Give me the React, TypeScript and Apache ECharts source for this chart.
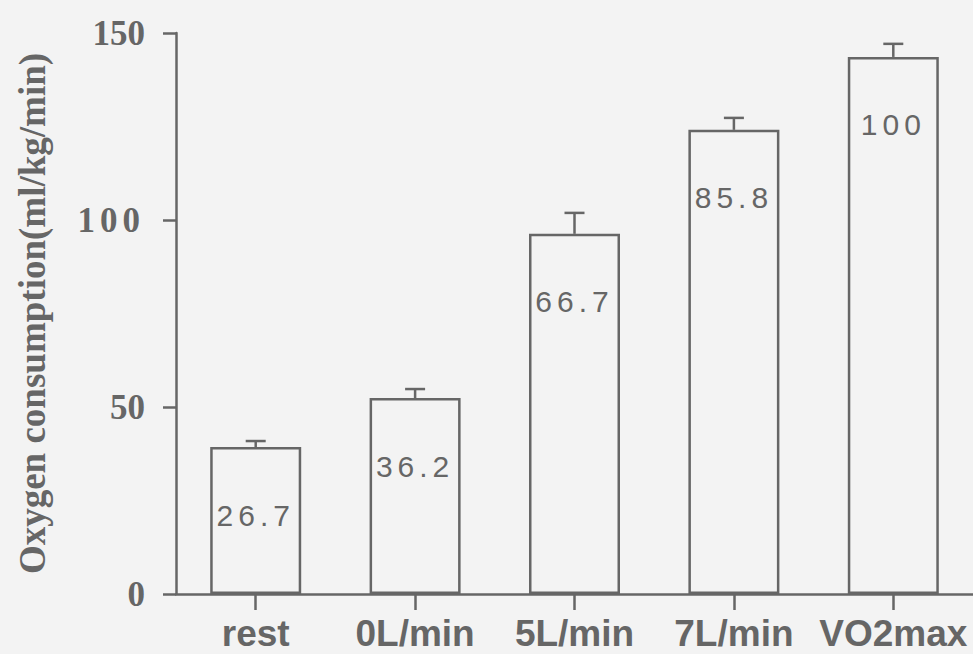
import React, { useEffect, useRef } from "react";
import * as echarts from "echarts";

// Oxygen consumption by condition (ml/kg/min), with upper SD whiskers
const categories = ["rest", "0L/min", "5L/min", "7L/min", "VO2max"];
const meanValues = [39.3, 52.4, 96.3, 124.1, 143.6];
const upperErrors = [40.9, 54.8, 101.9, 127.3, 147.1];
// Relative intensity printed inside each bar (% of VO2max)
const percentLabels = ["26.7", "36.2", "66.7", "85.8", "100"];
const yTicks = [0, 50, 100, 150];

const INK = "#666666";
const PAPER = "#f3f3f3";

export default function App() {
  const ref = useRef<HTMLDivElement>(null);

  useEffect(() => {
    if (!ref.current) return;
    const chart = echarts.init(ref.current, undefined, { renderer: "svg" });

    const spaceLabels = () => {
      const dom = chart.getDom();
      dom.querySelectorAll("text").forEach((t) => {
        if (percentLabels.includes((t.textContent || "").trim())) {
          t.setAttribute("letter-spacing", "5");
        }
      });
    };

    chart.setOption({
      animation: false,
      backgroundColor: PAPER,
      grid: { left: 176, top: 33, width: 797, height: 561, containLabel: false },
      xAxis: {
        type: "category",
        data: categories,
        boundaryGap: true,
        axisLine: { show: true, lineStyle: { color: INK, width: 2.5 } },
        axisTick: { show: true, alignWithLabel: true, length: 16, lineStyle: { color: INK, width: 2.5 } },
        axisLabel: {
          color: INK,
          fontFamily: "Liberation Sans, Arial, sans-serif",
          fontWeight: "bold",
          fontSize: 37,
          lineHeight: 37,
          margin: 21,
          interval: 0,
        },
        splitLine: { show: false },
      },
      yAxis: {
        type: "value",
        min: yTicks[0],
        max: yTicks[yTicks.length - 1],
        interval: yTicks[1] - yTicks[0],
        name: "Oxygen consumption(ml/kg/min)",
        nameLocation: "middle",
        nameRotate: 90,
        nameGap: 125,
        nameTextStyle: {
          color: INK,
          fontFamily: "Liberation Serif, Times New Roman, serif",
          fontWeight: "bold",
          fontSize: 37,
        },
        axisLine: { show: true, lineStyle: { color: INK, width: 2.5 } },
        axisTick: { show: true, length: 13, lineStyle: { color: INK, width: 2.5 } },
        axisLabel: {
          color: INK,
          fontFamily: "Liberation Serif, Times New Roman, serif",
          fontWeight: "bold",
          fontSize: 35,
          margin: 31,
        },
        splitLine: { show: false },
      },
      series: [
        {
          type: "bar",
          data: meanValues,
          barWidth: 91,
          silent: true,
          itemStyle: { color: PAPER, borderColor: INK, borderWidth: 2.5 },
          label: {
            show: true,
            position: ["50%", 68],
            align: "center",
            verticalAlign: "middle",
            color: INK,
            fontFamily: "Liberation Sans, Arial, sans-serif",
            fontSize: 30,
            formatter: (p: any) => percentLabels[p.dataIndex],
          },
        },
        {
          type: "custom",
          silent: true,
          data: meanValues.map((v, i) => [i, v, upperErrors[i]]),
          renderItem: (_params: any, api: any) => {
            const i = api.value(0);
            const base = api.coord([i, api.value(1)]);
            const top = api.coord([i, api.value(2)]);
            const half = 10;
            const style = { stroke: INK, lineWidth: 2.5, fill: "none" };
            return {
              type: "group",
              children: [
                { type: "line", shape: { x1: base[0], y1: base[1], x2: top[0], y2: top[1] }, style },
                { type: "line", shape: { x1: top[0] - half, y1: top[1], x2: top[0] + half, y2: top[1] }, style },
              ],
            };
          },
          z: 3,
        },
      ],
    });

    spaceLabels();
    chart.on("finished", spaceLabels);
    const raf = requestAnimationFrame(spaceLabels);

    return () => {
      cancelAnimationFrame(raf);
      chart.dispose();
    };
  }, []);

  return (
    <div
      ref={ref}
      style={{ position: "fixed", left: 0, top: 0, width: 973, height: 654, background: PAPER }}
    />
  );
}
